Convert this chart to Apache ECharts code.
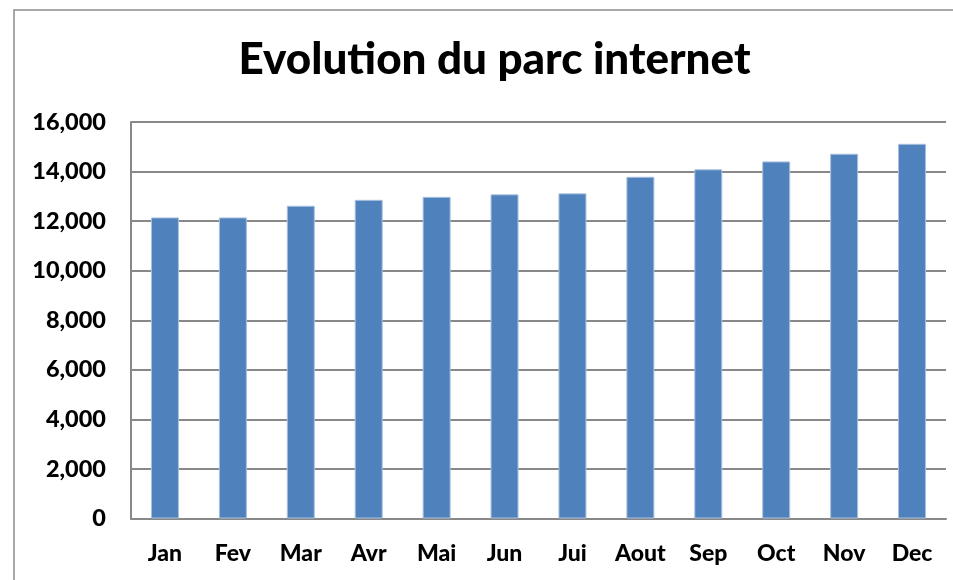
<!DOCTYPE html>
<html>
<head>
<meta charset="utf-8">
<script src="https://cdn.jsdelivr.net/npm/echarts@6/dist/echarts.min.js"></script>
<style>
html,body{margin:0;padding:0;background:#fff;}
#chart{width:953px;height:580px;}
</style>
</head>
<body>
<div id="chart"></div>
<script>
const titleText = "Evolution du parc internet";
const months = ["Jan","Fev","Mar","Avr","Mai","Jun","Jui","Aout","Sep","Oct","Nov","Dec"];
const parc = [12150,12150,12620,12860,12980,13080,13120,13790,14090,14410,14720,15120];
const yTicks = [0,2000,4000,6000,8000,10000,12000,14000,16000];

const chart = echarts.init(document.getElementById('chart'), null, {renderer:'canvas'});
const font = 'Lato, "Open Sans", sans-serif';
chart.setOption({
  animation:false,
  backgroundColor:'#ffffff',
  graphic:[
    {type:'rect', shape:{x:14,y:10,width:1000,height:1000}, style:{fill:'none',stroke:'#8c8c8c',lineWidth:1.5}, silent:true},
    {type:'text', x:494.5, y:60, style:{text:titleText, fontFamily:font, fontWeight:900, fontSize:44, fill:'#000', textAlign:'center', textVerticalAlign:'middle'}}
  ],
  grid:{left:131,right:7,top:122,bottom:61.5,containLabel:false},
  xAxis:{
    type:'category', data:months,
    axisLine:{show:true,lineStyle:{color:'#888',width:2}},
    axisTick:{show:false},
    axisLabel:{fontFamily:font,fontWeight:900,fontSize:23,color:'#000',margin:24,interval:0}
  },
  yAxis:{
    type:'value', min:yTicks[0], max:yTicks[yTicks.length-1], interval:yTicks[1]-yTicks[0],
    axisLine:{show:true,lineStyle:{color:'#888',width:2}},
    axisTick:{show:false},
    splitLine:{show:true,lineStyle:{color:'#888',width:2}},
    axisLabel:{fontFamily:font,fontWeight:900,fontSize:23.5,color:'#000',margin:25,
      formatter:v=>v.toLocaleString('en-US')}
  },
  series:[{
    type:'bar', data:parc, barWidth:28,
    itemStyle:{color:'#4f81bd',borderColor:'#a9c1df',borderWidth:1}
  }]
});
</script>
</body>
</html>
